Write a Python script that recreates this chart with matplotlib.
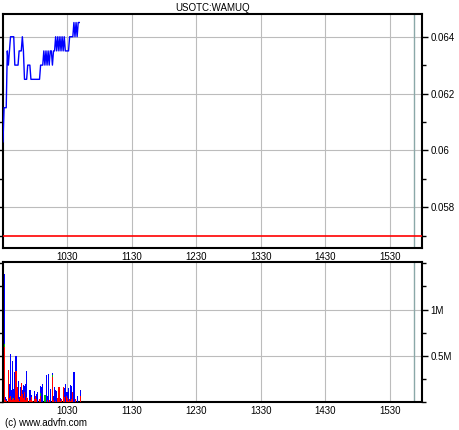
import numpy as np
import matplotlib
matplotlib.use("Agg")
import matplotlib.pyplot as plt
from matplotlib.ticker import FixedLocator, MultipleLocator, FuncFormatter

plt.rcParams['font.family'] = ['Liberation Sans', 'DejaVu Sans']

title = "USOTC:WAMUQ"
credit = "(c) www.advfn.com"

# minutes since 09:30, one price per minute
price = [0.0603, 0.0615, 0.0615, 0.0615, 0.0635, 0.063, 0.0635, 0.064, 0.064, 0.064,
         0.064, 0.063, 0.063, 0.063, 0.063, 0.0635, 0.0635, 0.0635, 0.064, 0.0635,
         0.0625, 0.0625, 0.0625, 0.063, 0.063, 0.063, 0.0625, 0.0625, 0.0625, 0.0625,
         0.0625, 0.0625, 0.0625, 0.0625, 0.0625, 0.063, 0.063, 0.063, 0.0635, 0.063,
         0.0635, 0.063, 0.0635, 0.063, 0.0635, 0.0635, 0.063, 0.0635, 0.0635, 0.064,
         0.0635, 0.064, 0.0635, 0.064, 0.0635, 0.064, 0.0635, 0.064, 0.0635, 0.0635,
         0.0635, 0.0635, 0.064, 0.064, 0.064, 0.064, 0.0645, 0.064, 0.0645, 0.064,
         0.0645, 0.0645]
prev_close = 0.057

# volume bars (thousands of shares), split by colour
vol_min = [0, 1, 2, 4, 5, 6, 7, 8, 9, 10, 11, 12, 13, 14, 15, 16, 17, 18, 19, 20,
           21, 22, 24, 25, 26, 28, 29, 30, 31, 33, 34, 35, 36, 38, 39, 40, 41, 42, 43, 45,
           46, 47, 48, 49, 50, 51, 52, 53, 55, 56, 57, 58, 59, 60, 61, 62, 63, 64, 65, 66,
           68, 71]
vol_red = [590, 20, 10, 350, 40, 60, 20, 30, 40, 20, 340, 160, 30, 10, 60, 210, 90, 40, 110, 20,
           50, 40, 20, 50, 10, 30, 60, 30, 0, 30, 70, 0, 0, 0, 0, 20, 0, 20, 0, 270,
           20, 0, 10, 0, 40, 160, 10, 30, 160, 50, 0, 60, 40, 10, 30, 10, 30, 110, 0, 30,
           0, 70]
vol_green = [40, 0, 0, 0, 0, 0, 0, 10, 0, 0, 0, 0, 0, 0, 0, 0, 0, 0, 0, 0,
             0, 0, 0, 0, 0, 0, 0, 0, 0, 0, 30, 0, 0, 80, 0, 0, 0, 0, 0, 20,
             0, 0, 0, 0, 0, 0, 0, 0, 0, 0, 0, 0, 0, 0, 0, 0, 0, 0, 0, 0,
             0, 0]
vol_blue = [750, 30, 20, 0, 150, 460, 110, 400, 100, 300, 160, 0, 200, 40, 100, 0, 40, 140, 60, 180,
            290, 0, 110, 30, 0, 90, 0, 60, 110, 0, 70, 160, 190, 0, 290, 40, 300, 0, 140, 20,
            40, 160, 120, 120, 0, 0, 30, 0, 0, 100, 200, 50, 70, 140, 0, 170, 140, 0, 320, 0,
            70, 60]

tick_pos = [60, 120, 180, 240, 300, 360]
tick_labels = ["1030", "1130", "1230", "1330", "1430", "1530"]
now_marker = 383

fig = plt.figure(figsize=(4.6, 4.3), dpi=100)
ax1 = fig.add_axes([3 / 460, 1 - 248 / 430, 419 / 460, 234 / 430])
ax2 = fig.add_axes([3 / 460, 1 - 402 / 430, 419 / 460, 140 / 430])

grid_kw = dict(color='#bcbcbc', lw=0.8)

# price panel
x = np.arange(len(price))
ax1.plot(x, price, color='#0000ff', lw=1.0, zorder=3)
ax1.axhline(prev_close, color='#ff0000', lw=1.2, zorder=3)
ax1.set_xlim(0, 390)
ax1.set_ylim(0.05656, 0.0648)
ax1.yaxis.set_major_locator(MultipleLocator(0.002))
ax1.yaxis.set_minor_locator(MultipleLocator(0.001))
ax1.yaxis.set_major_formatter(FuncFormatter(lambda v, p: f"{v:g}"))
ax1.grid(True, which='major', **grid_kw)
ax1.set_title(title, fontsize=7, pad=2)

# volume panel
vm = np.array(vol_min) + 0.6
r = np.array(vol_red) * 1000
g = np.array(vol_green) * 1000
b = np.array(vol_blue) * 1000
bar_kw = dict(width=1.0, align='edge', lw=0, antialiased=False, zorder=3)
ax2.bar(vm, r, color='#ff0000', **bar_kw)
ax2.bar(vm, g, bottom=r, color='#00c000', **bar_kw)
ax2.bar(vm, b, bottom=r + g, color='#0000ff', **bar_kw)
ax2.set_xlim(0, 390)
ax2.set_ylim(0, 1.514e6)
ax2.yaxis.set_major_locator(FixedLocator([0.5e6, 1e6]))
ax2.yaxis.set_minor_locator(MultipleLocator(0.25e6))
ax2.yaxis.set_major_formatter(FuncFormatter(lambda v, p: f"{v / 1e6:g}M"))
ax2.grid(True, which='major', **grid_kw)

for ax in (ax1, ax2):
    ax.axvline(now_marker, color='#8aa8a8', lw=1.0, zorder=2)
    ax.set_xticks(tick_pos)
    ax.set_xticklabels(tick_labels)
    ax.yaxis.tick_right()
    ax.tick_params(axis='x', length=0, labelsize=7, pad=3)
    ax.tick_params(axis='y', which='both', left=True, right=True, direction='out',
                   labelsize=7, pad=2)
    ax.tick_params(axis='y', which='major', length=4, width=1)
    ax.tick_params(axis='y', which='minor', length=3, width=1)
    for s in ax.spines.values():
        s.set_linewidth(1.5)
    ax.set_facecolor('white')

fig.text(5 / 460, 1 - 423 / 430, credit, fontsize=7, va='center', ha='left')

fig.savefig("out.png", dpi=100)
